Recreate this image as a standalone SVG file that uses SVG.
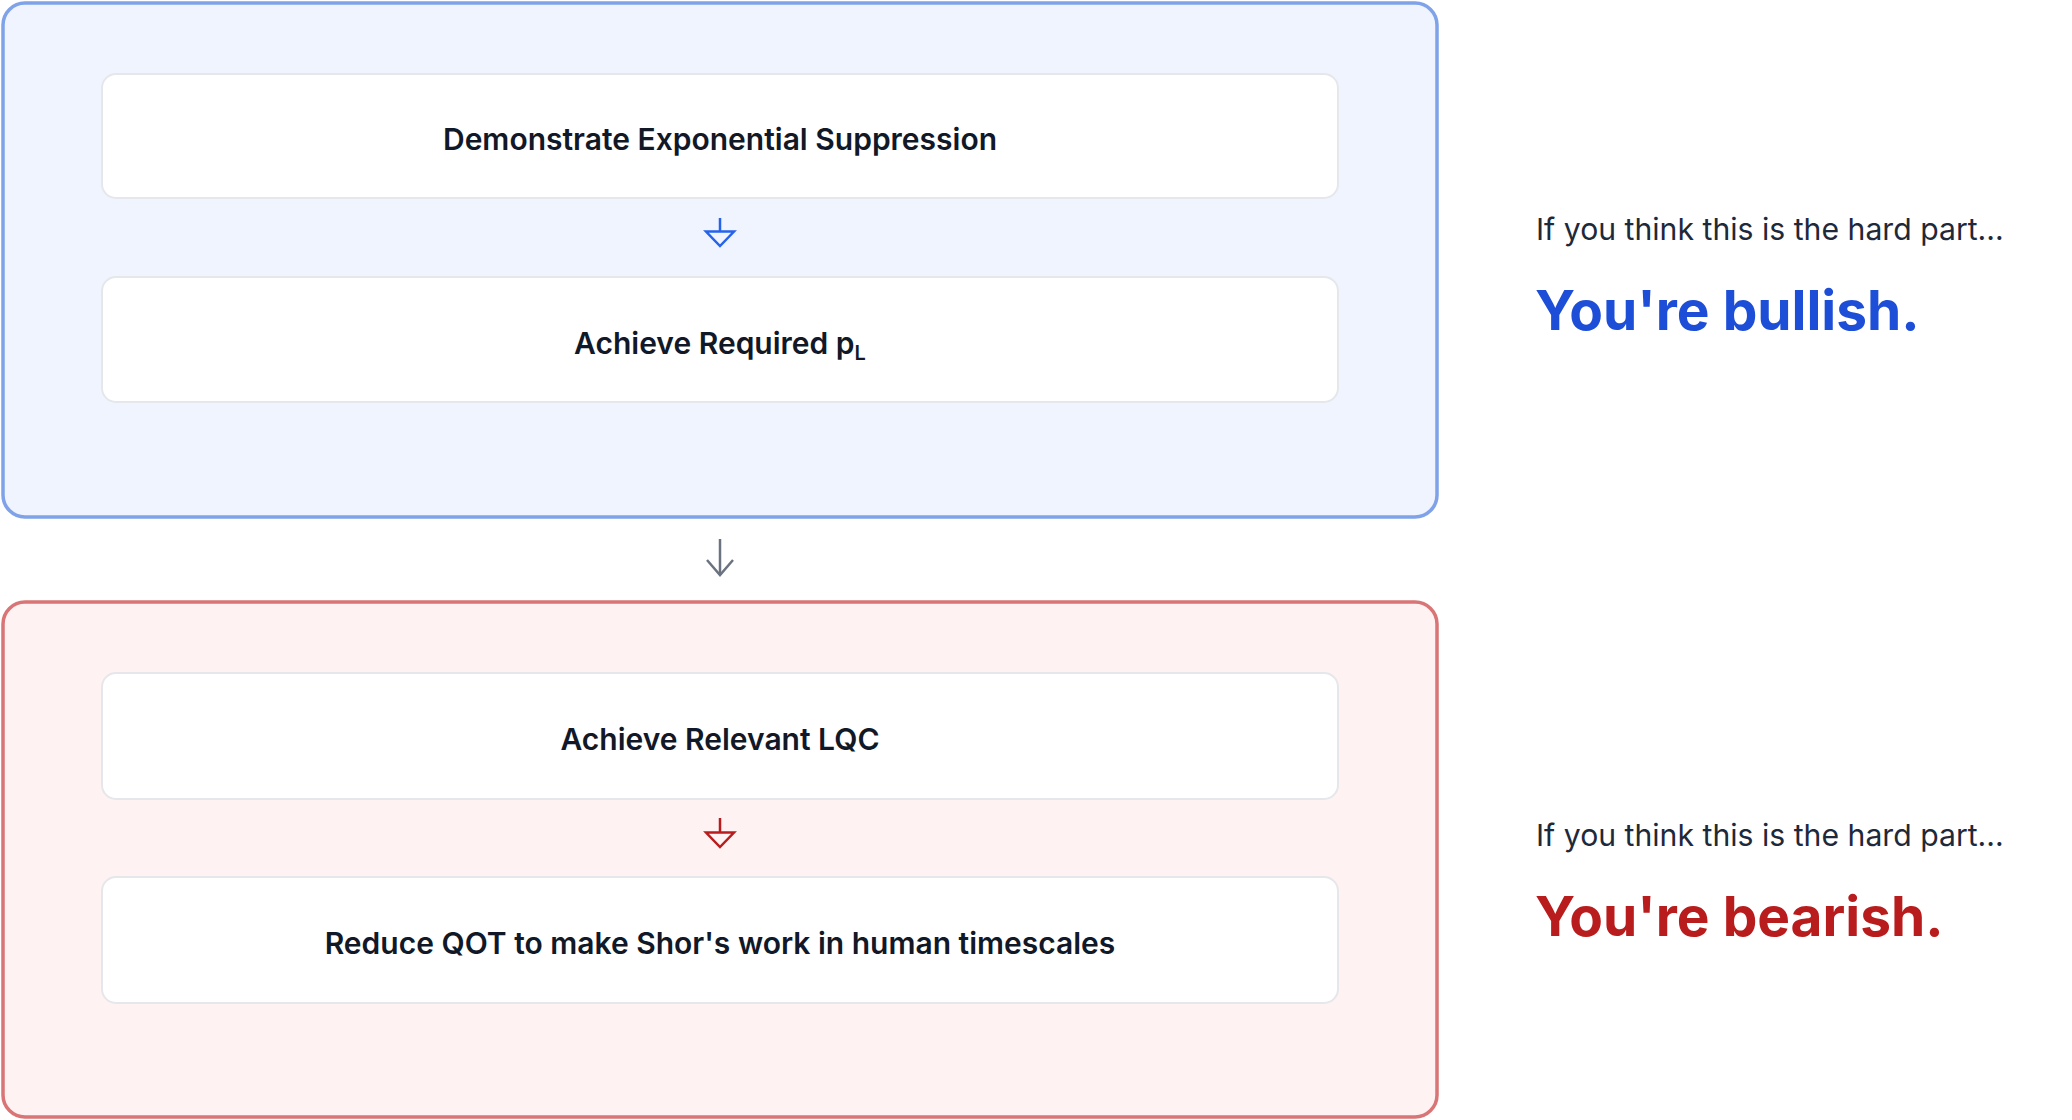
<svg xmlns="http://www.w3.org/2000/svg" width="2072" height="1120" viewBox="0 0 2072 1120">
  <defs>
    <style>
      .bg { fill: #ffffff; }
      .grp-blue { fill: #eff4fe; stroke: #7fa2e9; stroke-width: 3.5; }
      .grp-red { fill: #fef2f2; stroke: #d97576; stroke-width: 3.5; }
      .card { fill: #ffffff; stroke: #e5e7eb; stroke-width: 2; }
      .label { font-family: Inter, "Noto Sans", "Liberation Sans", sans-serif; font-size: 30px; font-weight: 600; fill: #111827; text-anchor: middle; }
      .hint { font-family: Inter, "Noto Sans", "Liberation Sans", sans-serif; font-size: 30.2px; font-weight: 400; fill: #1e293b; }
      .verdict { font-family: Inter, "Noto Sans", "Liberation Sans", sans-serif; font-size: 55px; font-weight: 700; }
      .tri { fill: none; stroke-width: 2.5; stroke-linejoin: miter; }
      .stem { stroke-width: 2.5; fill: none; }
    </style>
  </defs>
  <rect class="bg" x="0" y="0" width="2072" height="1120"/>

  <g id="group-bullish">
    <rect class="grp-blue" x="3" y="3" width="1434" height="514" rx="22"/>
  </g>
  <g id="group-bearish">
    <rect class="grp-red" x="3" y="602" width="1434" height="515" rx="22"/>
  </g>

  <g id="node-exp-suppression">
    <rect class="card" x="102" y="74" width="1236" height="124" rx="14"/>
    <text class="label" x="720" y="150">Demonstrate Exponential Suppression</text>
  </g>
  <g id="node-required-pl">
    <rect class="card" x="102" y="277" width="1236" height="125" rx="14"/>
    <text class="label" x="720" y="353.5">Achieve Required p<tspan font-size="20" dy="6">L</tspan></text>
  </g>
  <g id="node-relevant-lqc">
    <rect class="card" x="102" y="673" width="1236" height="126" rx="14"/>
    <text class="label" x="720" y="750">Achieve Relevant LQC</text>
  </g>
  <g id="node-reduce-qot">
    <rect class="card" x="102" y="877" width="1236" height="126" rx="14"/>
    <text class="label" x="720" y="953.5">Reduce QOT to make Shor's work in human timescales</text>
  </g>

  <g id="connectors">
    <line class="stem" x1="720" y1="218" x2="720" y2="231" stroke="#2563eb"/>
    <path class="tri" d="M706,231.5 L734,231.5 L720,246 Z" stroke="#2563eb"/>
    <line class="stem" x1="720" y1="539" x2="720" y2="575" stroke="#6b7280"/>
    <path d="M707,560 L720,575 L733,560" fill="none" stroke="#6b7280" stroke-width="2.5" stroke-linejoin="miter"/>
    <line class="stem" x1="720" y1="818" x2="720" y2="832" stroke="#b91c1c"/>
    <path class="tri" d="M706,832.5 L734,832.5 L720,847 Z" stroke="#b91c1c"/>
  </g>

  <g id="annotation-bullish">
    <text class="hint" x="1536" y="240">If you think this is the hard part...</text>
    <text class="verdict" x="1535" y="330" fill="#1d4ed8">You're bullish.</text>
  </g>
  <g id="annotation-bearish">
    <text class="hint" x="1536" y="846">If you think this is the hard part...</text>
    <text class="verdict" x="1535" y="936" fill="#b91c1c">You're bearish.</text>
  </g>
</svg>
